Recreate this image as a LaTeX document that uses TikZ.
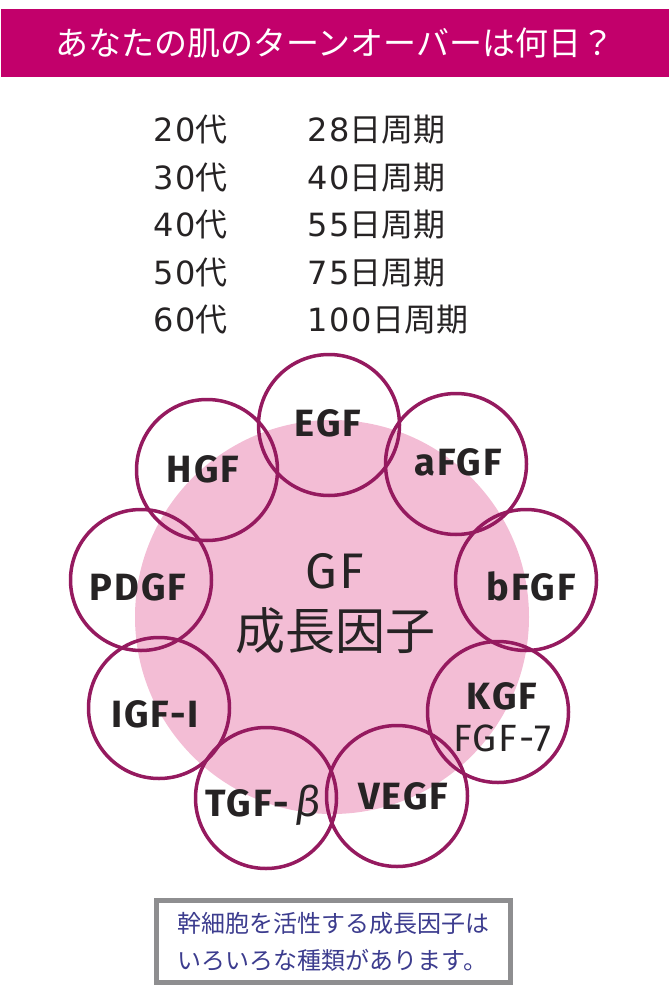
\documentclass[tikz,border=0pt]{standalone}
\usepackage{fontspec}
\setmainfont{Fira Sans}
\newfontfamily\jpfont{Noto Sans CJK JP}
\newfontfamily\digitfont[LetterSpace=6]{DejaVu Sans}
\newfontfamily\gffont[LetterSpace=5]{Fira Sans}
\usetikzlibrary{positioning}
\definecolor{turnmagenta}{HTML}{C2006B}
\definecolor{gfpink}{HTML}{F3BDD5}
\definecolor{ringpurple}{HTML}{951A5F}
\definecolor{inkgray}{HTML}{262324}
\definecolor{notenavy}{HTML}{3C3C8E}
\definecolor{boxgray}{HTML}{8E8E90}

\begin{document}
\begin{tikzpicture}[x=1pt,y=-1pt,
    ring/.style={circle, draw=ringpurple, line width=3.5pt, minimum size=141pt, inner sep=0pt},
    ringtext/.style={align=center, inner sep=0pt, text=inkgray,
      font=\gffont\bfseries\fontsize{38}{42}\selectfont},
    agecol/.style={anchor=west, inner sep=0pt, text=inkgray,
      font=\jpfont\fontsize{32}{32}\selectfont}]
  \useasboundingbox (0,0) rectangle (670,1000);

  % title bar
  \node[fill=turnmagenta, minimum width=668pt, minimum height=68pt, inner sep=0pt,
        text=white, font=\jpfont\fontsize{33}{33}\selectfont] (title) at (335,43)
        {あなたの肌のターンオーバーは何日？};

  % age / turnover table
  \foreach \age/\days/\ypos in {20/28/130, 30/40/178, 40/55/225, 50/75/273, 60/100/320} {
    \node[agecol] (age\age) at (153,\ypos) {{\digitfont\age}代};
    \node[agecol] (cycle\age) at (307,\ypos) {{\digitfont\days}日周期};
  }

  % growth factors
  \node[circle, fill=gfpink, minimum size=394pt, inner sep=0pt] (core) at (332,617) {};
  \node[text=inkgray, inner sep=0pt, font=\gffont\fontsize{50}{50}\selectfont] (gf) at (335,571) {GF};
  \node[text=inkgray, inner sep=0pt, font=\jpfont\fontsize{50}{50}\selectfont] (gfjp) at (335,631) {成長因子};

  \foreach \name/\cx/\cy/\lx/\ly/\txt in {
      egf/329/425/328/423/EGF,
      afgf/456/464/458/462/aFGF,
      bfgf/526/580/531/586/bFGF,
      kgf/498/712/502/717/{KGF\\{\mdseries FGF-7}},
      vegf/397/796/403/796/VEGF,
      tgf/266/798/263/805/{TGF-\,{\mdseries\itshape\fontsize{42}{42}\selectfont β}},
      igf/159/708/155/714/IGF-I,
      pdgf/141/580/138/587/PDGF,
      hgf/207/470/203/469/HGF} {
    \node[ring] (\name) at (\cx,\cy) {};
    \node[ringtext] (\name-text) at (\lx,\ly) {\txt};
  }

  % note box
  \node[draw=boxgray, line width=4.5pt, minimum width=354pt, minimum height=82pt,
        align=left, text=notenavy, font=\jpfont\fontsize{24}{37}\selectfont] (note) at (333.5,941.5)
        {幹細胞を活性する成長因子は\\いろいろな種類があります。};
\end{tikzpicture}
\end{document}
